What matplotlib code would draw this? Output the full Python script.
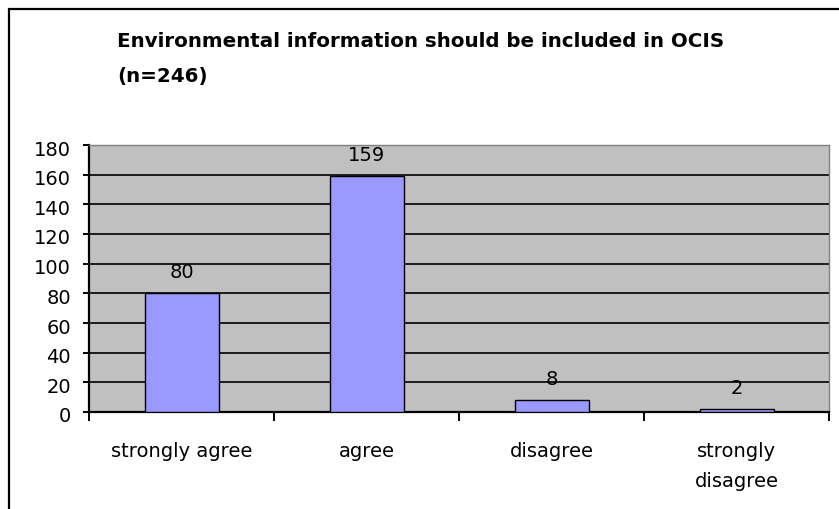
import matplotlib
matplotlib.use("Agg")
import matplotlib.pyplot as plt
import matplotlib.transforms as mtransforms
from matplotlib.patches import Rectangle

plt.rcParams['font.family'] = ['DejaVu Sans']

categories = ["strongly agree", "agree", "disagree", "strongly\ndisagree"]
counts = [80, 159, 8, 2]
yticks = [0, 20, 40, 60, 80, 100, 120, 140, 160, 180]
title_lines = ["Environmental information should be included in OCIS", "(n=246)"]

W, H = 839, 509
fig = plt.figure(figsize=(W / 100, H / 100), dpi=100)
fig.patch.set_facecolor("white")

# outer chart frame (left and top edges visible)
fig.add_artist(Rectangle((9 / W, -0.1), 1.2, (H - 9) / H + 0.1, transform=fig.transFigure,
                         fill=False, edgecolor="black", linewidth=1.6))

left, right, top, bottom = 89, 829, 145, 412
ax = fig.add_axes([left / W, 1 - bottom / H, (right - left) / W, (bottom - top) / H])
ax.set_facecolor("#C0C0C0")

x = list(range(len(categories)))
ax.bar(x, counts, width=0.4, color="#9999FF", edgecolor="black", linewidth=1.0, zorder=3)
for xi, v in zip(x, counts):
    ax.annotate(str(v), (xi, v), xytext=(0, 11), textcoords="offset points",
                ha="center", va="baseline", fontsize=14, zorder=4)

ax.set_xlim(-0.5, len(categories) - 0.5)
ax.set_ylim(0, 180)
ax.set_yticks(yticks)
ax.yaxis.grid(True, color="black", linewidth=1.2, zorder=1)
ax.set_axisbelow(True)

ax.set_xticks([i - 0.5 for i in range(len(categories) + 1)])
ax.set_xticklabels([])
ax.tick_params(axis="x", direction="out", length=6.5, width=1.4, color="black")
ax.tick_params(axis="y", direction="out", length=4.5, width=1.4, labelsize=14, pad=8.5)

# nudge the value-axis labels slightly below their ticks
shift = mtransforms.ScaledTranslation(0, -3 / 100, fig.dpi_scale_trans)
for lbl in ax.get_yticklabels():
    lbl.set_transform(lbl.get_transform() + shift)

# category labels under the axis, one text per line
to_px = mtransforms.blended_transform_factory(ax.transData, fig.transFigure)
for xi, cat in zip(x, categories):
    for k, line in enumerate(cat.split("\n")):
        fig.text(xi, 1 - (457 + 30 * k) / H, line, transform=to_px, fontsize=14,
                 ha="center", va="baseline")

for s in ("left", "bottom"):
    ax.spines[s].set_color("black")
    ax.spines[s].set_linewidth(1.6)
for s in ("top", "right"):
    ax.spines[s].set_color("#808080")
    ax.spines[s].set_linewidth(1.0)

for k, line in enumerate(title_lines):
    fig.text(117 / W, 1 - (47 + 35 * k) / H, line, ha="left", va="baseline",
             fontsize=14.3, fontweight="bold")

fig.savefig("out.png", dpi=100, facecolor="white")
